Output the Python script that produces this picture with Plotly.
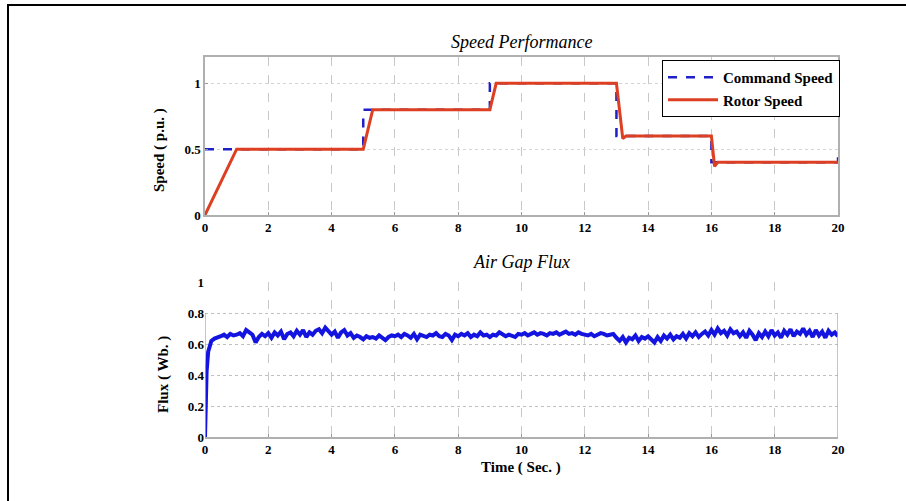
import plotly.graph_objects as go

# ---------------- data ----------------
cmd_t = [0, 5, 5, 9, 9, 13, 13, 16, 16, 20, 20]
cmd_v = [0.5, 0.5, 0.8, 0.8, 1.0, 1.0, 0.6, 0.6, 0.4, 0.4, 0.5]

rotor_t = [0, 1.0, 5.0, 5.3, 9.0, 9.2, 13.0, 13.2, 13.3, 16.0, 16.1, 16.2, 20]
rotor_v = [0, 0.5, 0.5, 0.8, 0.8, 1.0, 1.0, 0.58, 0.6, 0.6, 0.37, 0.4, 0.4]

flux_rise_t = [0, 0.02, 0.05, 0.1, 0.15, 0.2, 0.3, 0.4]
flux_rise_v = [0, 0.2, 0.42, 0.55, 0.6, 0.62, 0.635, 0.64]
flux_v = [
    0.65, 0.66, 0.645, 0.665, 0.655,
    0.66, 0.67, 0.65, 0.69, 0.675, 0.66, 0.61, 0.645, 0.665, 0.65,
    0.67, 0.64, 0.675, 0.655, 0.68, 0.63, 0.665, 0.675, 0.65, 0.685,
    0.66, 0.69, 0.645, 0.675, 0.66, 0.685, 0.695, 0.67, 0.705, 0.685,
    0.66, 0.68, 0.64, 0.675, 0.69, 0.655, 0.67, 0.64, 0.655, 0.645,
    0.63, 0.65, 0.64, 0.645, 0.635, 0.655, 0.64, 0.625, 0.645, 0.655,
    0.65, 0.66, 0.645, 0.665, 0.655, 0.64, 0.665, 0.63, 0.66, 0.655,
    0.645, 0.66, 0.655, 0.67, 0.65, 0.645, 0.665, 0.655, 0.625, 0.66,
    0.65, 0.665, 0.655, 0.67, 0.645, 0.66, 0.65, 0.675, 0.655, 0.66,
    0.645, 0.66, 0.655, 0.675, 0.665, 0.65, 0.66, 0.655, 0.645, 0.665,
    0.66, 0.67, 0.655, 0.665, 0.675, 0.66, 0.67, 0.665, 0.655, 0.67,
    0.665, 0.675, 0.66, 0.67, 0.68, 0.665, 0.67, 0.66, 0.675, 0.665,
    0.66, 0.655, 0.665, 0.65, 0.66, 0.67, 0.665, 0.655, 0.66, 0.665,
    0.64, 0.62, 0.645, 0.61, 0.64, 0.63, 0.655, 0.62, 0.645, 0.635,
    0.65, 0.625, 0.61, 0.645, 0.62, 0.655, 0.635, 0.66, 0.63, 0.65,
    0.64, 0.665, 0.635, 0.67, 0.65, 0.675, 0.645, 0.665, 0.68, 0.655,
    0.69, 0.66, 0.7, 0.67, 0.685, 0.655, 0.695, 0.67, 0.68, 0.65,
    0.675, 0.64, 0.685, 0.66, 0.625, 0.67, 0.645, 0.68, 0.65, 0.69,
    0.655, 0.675, 0.64, 0.685, 0.66, 0.695, 0.65, 0.68, 0.665, 0.7,
    0.66, 0.685, 0.645, 0.69, 0.655, 0.68, 0.64, 0.685, 0.66, 0.675,
    0.65,
]
flux_t_tail = [round(0.5 + 0.1 * i, 2) for i in range(len(flux_v))]
flux_t = flux_rise_t + flux_t_tail
flux_all = flux_rise_v + flux_v

x_ticks = [0, 2, 4, 6, 8, 10, 12, 14, 16, 18, 20]
top_y_ticks = [0, 0.5, 1]
bot_y_ticks = [0, 0.2, 0.4, 0.6, 0.8, 1]

# ---------------- figure ----------------
W, H = 906, 501
FONT = "Liberation Serif"
fig = go.Figure()

fig.add_trace(go.Scatter(x=cmd_t, y=cmd_v, mode="lines", name="<b>Command Speed</b>",
                         line=dict(color="#2020c8", width=2.5, dash="dash"),
                         xaxis="x", yaxis="y"))
fig.add_trace(go.Scatter(x=rotor_t, y=rotor_v, mode="lines", name="<b>Rotor Speed</b>",
                         line=dict(color="#dc3f22", width=3),
                         xaxis="x", yaxis="y"))
fig.add_trace(go.Scatter(x=flux_t, y=flux_all, mode="lines", showlegend=False,
                         line=dict(color="#1414e0", width=4),
                         xaxis="x2", yaxis="y2"))

xdom = [205 / W, 838 / W]
tick_font = dict(family=FONT, size=13, color="black")
xcommon = dict(range=[0, 20], tickvals=x_ticks, ticktext=[f"<b>{v}</b>" for v in x_ticks],
               tickfont=tick_font, showgrid=True, gridcolor="#c8c8c8", griddash="dash",
               gridwidth=1, zeroline=False, ticks="inside", ticklen=3, tickcolor="#999",
               domain=xdom, fixedrange=True, automargin=False)

fig.update_layout(
    template="none",
    width=W, height=H, margin=dict(l=0, r=0, t=0, b=0, pad=0, autoexpand=False),
    paper_bgcolor="white", plot_bgcolor="white",
    xaxis=dict(**xcommon, anchor="y", showline=True, linecolor="#b0b0b0", linewidth=1.5, mirror=True),
    yaxis=dict(range=[0, 1.2], domain=[1 - 215 / H, 1 - 57 / H], tickvals=top_y_ticks,
               ticktext=["<b>0</b>", "<b>0.5</b>", "<b>1</b>"], tickfont=tick_font,
               showgrid=True, gridcolor="#d4d4d4", griddash="dot", zeroline=False,
               showline=True, linecolor="#b0b0b0", linewidth=1.5, mirror=True,
               ticks="inside", ticklen=3, tickcolor="#999", anchor="x", automargin=False),
    xaxis2=dict(**xcommon, anchor="y2", showline=True, linecolor="#b0b0b0", linewidth=1.5),
    yaxis2=dict(range=[0, 1], domain=[1 - 437 / H, 1 - 282 / H], tickvals=bot_y_ticks,
                ticktext=["<b>0</b>", "<b>0.2</b>", "<b>0.4</b>", "<b>0.6</b>", "<b>0.8</b>", "<b>1</b>"],
                tickfont=tick_font, showgrid=True, gridcolor="#c0c0c0", griddash="dot",
                zeroline=False, showline=False, ticks="", anchor="x2", automargin=False),
    legend=dict(x=840 / W, xanchor="right", y=1 - 60 / H, yanchor="top",
                bgcolor="white", bordercolor="black", borderwidth=1,
                font=dict(family=FONT, size=15, color="black"),
                tracegroupgap=0, itemwidth=50),
    showlegend=True,
)

# frame of the lower plot (sides end at 0.8)
for x0, y0, x1, y1 in [(0, 0, 0, 0.8), (20, 0, 20, 0.8)]:
    fig.add_shape(type="line", xref="x2", yref="y2", x0=x0, y0=y0, x1=x1, y1=y1,
                  line=dict(color="#b0b0b0", width=1.5))

# outer border
fig.add_shape(type="rect", xref="paper", yref="paper", x0=8 / W, y0=-0.02, x1=1.02, y1=1 - 5 / H,
              line=dict(color="black", width=2), fillcolor="rgba(0,0,0,0)")

title_font = dict(family=FONT, size=18, color="black")
label_font = dict(family=FONT, size=15, color="black")


def label(text, px, py, font, angle=0):
    fig.add_annotation(text=text, x=px / W, y=1 - py / H, xref="paper", yref="paper",
                       xanchor="center", yanchor="middle", showarrow=False,
                       textangle=angle, font=font)


label("<i>Speed Performance</i>", 521, 42, title_font)
label("<i>Air Gap Flux</i>", 521, 262, title_font)
label("<b>Speed ( p.u. )</b>", 160, 150, label_font, -90)
label("<b>Flux ( Wb. )</b>", 163, 375, label_font, -90)
label("<b>Time ( Sec. )</b>", 521, 467, label_font)

fig.write_html("out.html")
